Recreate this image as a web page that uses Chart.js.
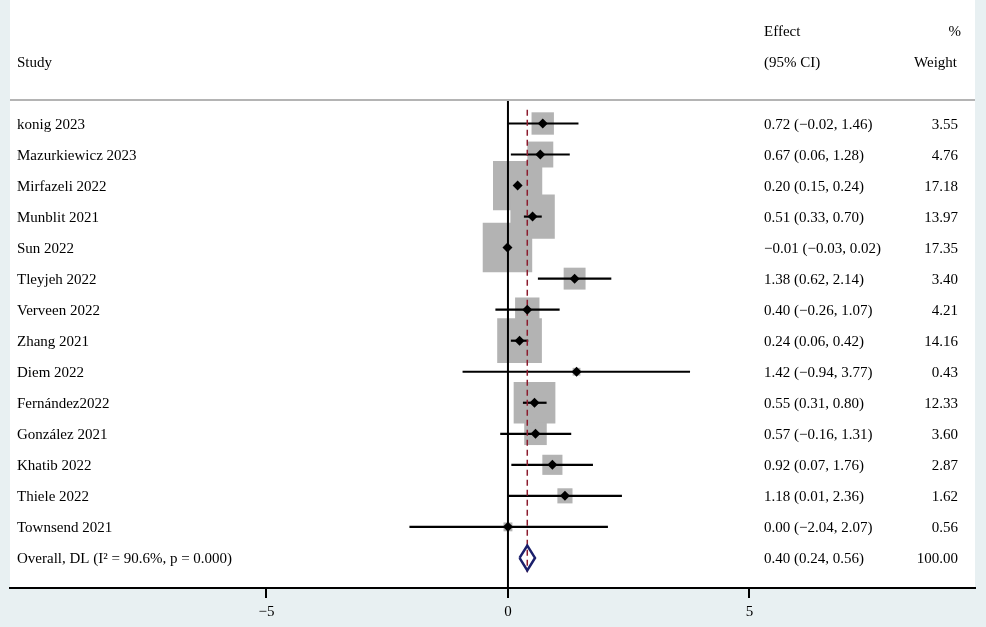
<!DOCTYPE html>
<html>
<head>
<meta charset="utf-8">
<script src="https://cdn.jsdelivr.net/npm/chart.js@4.4.0/dist/chart.umd.min.js"></script>
<style>
  html, body { margin: 0; padding: 0; background: #e8f0f2; }
  #wrap { width: 986px; height: 627px; position: relative; }
</style>
</head>
<body>
<div id="wrap"><canvas id="forest"></canvas></div>
<script>
"use strict"

// study data
const studies = ["konig 2023", "Mazurkiewicz 2023", "Mirfazeli 2022", "Munblit 2021", "Sun 2022",
  "Tleyjeh 2022", "Verveen 2022", "Zhang 2021", "Diem 2022", "Fernández2022", "González 2021",
  "Khatib 2022", "Thiele 2022", "Townsend 2021"];
const effects = [0.72, 0.67, 0.20, 0.51, -0.01, 1.38, 0.40, 0.24, 1.42, 0.55, 0.57, 0.92, 1.18, 0.00];
const lower = [-0.02, 0.06, 0.15, 0.33, -0.03, 0.62, -0.26, 0.06, -0.94, 0.31, -0.16, 0.07, 0.01, -2.04];
const upper = [1.46, 1.28, 0.24, 0.70, 0.02, 2.14, 1.07, 0.42, 3.77, 0.80, 1.31, 1.76, 2.36, 2.07];
const weights = [3.55, 4.76, 17.18, 13.97, 17.35, 3.40, 4.21, 14.16, 0.43, 12.33, 3.60, 2.87, 1.62, 0.56];

// overall estimate: effect, lower, upper
const overallLabel = "Overall, DL (I\u00B2 = 90.6%, p = 0.000)";
const overallEst = [0.40, 0.24, 0.56];
const overallWeight = 100.00;

const xTicks = [-5, 0, 5];

const serif = "'Liberation Serif', 'Times New Roman', serif";
const overallRow = studies.length;

function fmt(v) {
  return (v < 0 ? "\u2212" : "") + Math.abs(v).toFixed(2);
}

// one line per confidence interval
let ciSets = [];
for (let i = 0; i < studies.length; i++) {
  ciSets.push({
    type: "line",
    data: [{x: lower[i], y: i}, {x: upper[i], y: i}],
    borderColor: "#000",
    borderWidth: 2.2,
    pointRadius: 0,
    order: 3
  });
}

const datasets = [
  {
    // weight boxes
    type: "scatter",
    data: effects.map((e, i) => ({x: e, y: i})),
    pointStyle: "rect",
    pointRadius: weights.map(w => 8.4 * Math.sqrt(w)),
    backgroundColor: "#b3b3b3",
    borderWidth: 0,
    order: 6
  },
  {
    // null line at 0
    type: "line",
    data: [{x: 0, y: -0.76}, {x: 0, y: 15.5}],
    borderColor: "#000",
    borderWidth: 2,
    pointRadius: 0,
    order: 4
  },
  ...ciSets,
  {
    // overall effect dashed line
    type: "line",
    data: [{x: overallEst[0], y: -0.44}, {x: overallEst[0], y: 14.46}],
    borderColor: "#8c1c2e",
    borderWidth: 1.5,
    borderDash: [6, 4],
    pointRadius: 0,
    order: 2
  },
  {
    // point estimates
    type: "scatter",
    data: effects.map((e, i) => ({x: e, y: i})),
    pointStyle: "rectRot",
    pointRadius: 5,
    backgroundColor: "#000",
    borderWidth: 0,
    order: 1
  },
  {
    // overall diamond
    type: "line",
    data: [
      {x: overallEst[1], y: overallRow},
      {x: overallEst[0], y: overallRow - 0.4},
      {x: overallEst[2], y: overallRow},
      {x: overallEst[0], y: overallRow + 0.4},
      {x: overallEst[1], y: overallRow}
    ],
    borderColor: "#1b1f6b",
    borderWidth: 2.5,
    pointRadius: 0,
    tension: 0,
    order: 0
  }
];

// white panel behind the plot
const panelPlugin = {
  id: "panel",
  beforeDraw(chart) {
    const a = chart.chartArea;
    const ctx = chart.ctx;
    ctx.save();
    ctx.fillStyle = "#fff";
    ctx.fillRect(a.left, 0, a.right - a.left, a.bottom);
    ctx.restore();
  }
};

// header, study names and the text columns
const textPlugin = {
  id: "texts",
  afterDatasetsDraw(chart) {
    const ctx = chart.ctx;
    const ys = chart.scales.y;
    const a = chart.chartArea;
    const rowY = (v) => ys.getPixelForValue(v) + 1.5;
    ctx.save();
    ctx.font = "15px " + serif;
    ctx.fillStyle = "#000";
    ctx.textBaseline = "middle";

    // header line
    ctx.strokeStyle = "#b4b4b4";
    ctx.lineWidth = 2;
    ctx.beginPath();
    ctx.moveTo(a.left, ys.getPixelForValue(-0.76));
    ctx.lineTo(a.right, ys.getPixelForValue(-0.76));
    ctx.stroke();

    ctx.textAlign = "left";
    ctx.fillText("Effect", 764, rowY(-2.98));
    ctx.fillText("Study", 17, rowY(-1.98));
    ctx.fillText("(95% CI)", 764, rowY(-1.98));
    ctx.textAlign = "right";
    ctx.fillText("%", 961, rowY(-2.98));
    ctx.fillText("Weight", 957, rowY(-1.98));

    for (let i = 0; i < studies.length; i++) {
      const y = rowY(i);
      ctx.textAlign = "left";
      ctx.fillText(studies[i], 17, y);
      ctx.fillText(fmt(effects[i]) + " (" + fmt(lower[i]) + ", " + fmt(upper[i]) + ")", 764, y);
      ctx.textAlign = "right";
      ctx.fillText(weights[i].toFixed(2), 958, y);
    }
    const yo = rowY(overallRow);
    ctx.textAlign = "left";
    ctx.fillText(overallLabel, 17, yo);
    ctx.fillText(fmt(overallEst[0]) + " (" + fmt(overallEst[1]) + ", " + fmt(overallEst[2]) + ")", 764, yo);
    ctx.textAlign = "right";
    ctx.fillText(overallWeight.toFixed(2), 958, yo);
    ctx.restore();
  }
};

const config = {
  data: {datasets: datasets},
  options: {
    responsive: true,
    maintainAspectRatio: false,
    animation: false,
    layout: {autoPadding: false, padding: {left: 10, right: 11, top: 0, bottom: 1}},
    plugins: {legend: {display: false}, tooltip: {enabled: false}},
    scales: {
      x: {
        type: "linear",
        min: -10.31,
        max: 9.67,
        afterBuildTicks: (axis) => { axis.ticks = xTicks.map(v => ({value: v})); },
        grid: {drawOnChartArea: false, drawTicks: true, tickLength: 10, color: "#000", lineWidth: 2},
        border: {display: true, color: "#000", width: 2},
        ticks: {
          color: "#000",
          font: {family: serif, size: 15},
          padding: 5,
          maxRotation: 0,
          callback: (v) => (v < 0 ? "\u2212" : "") + Math.abs(v)
        }
      },
      y: {
        type: "linear",
        display: false,
        reverse: true,
        min: -3.98,
        max: 14.97
      }
    }
  },
  plugins: [panelPlugin, textPlugin]
};

const forestChart = new Chart(document.getElementById("forest"), config);
</script>
</body>
</html>
